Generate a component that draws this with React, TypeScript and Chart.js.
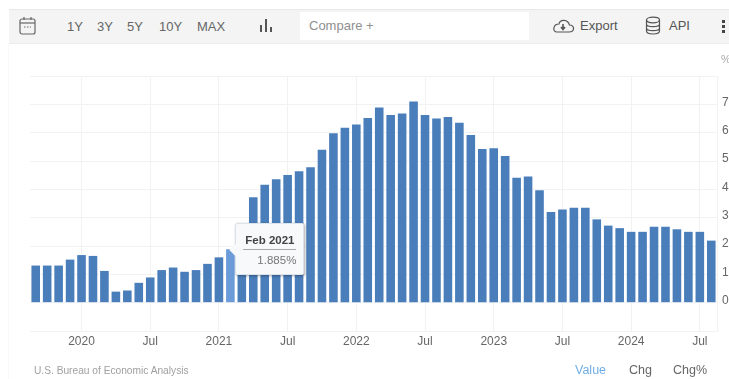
import React, { useEffect, useRef } from "react";
import { Chart, registerables } from "chart.js";

Chart.register(...registerables);

// Monthly rate, Sep 2019 through Aug 2024
const months = [
  "Sep 2019", "Oct 2019", "Nov 2019", "Dec 2019",
  "Jan 2020", "Feb 2020", "Mar 2020", "Apr 2020", "May 2020", "Jun 2020",
  "Jul 2020", "Aug 2020", "Sep 2020", "Oct 2020", "Nov 2020", "Dec 2020",
  "Jan 2021", "Feb 2021", "Mar 2021", "Apr 2021", "May 2021", "Jun 2021",
  "Jul 2021", "Aug 2021", "Sep 2021", "Oct 2021", "Nov 2021", "Dec 2021",
  "Jan 2022", "Feb 2022", "Mar 2022", "Apr 2022", "May 2022", "Jun 2022",
  "Jul 2022", "Aug 2022", "Sep 2022", "Oct 2022", "Nov 2022", "Dec 2022",
  "Jan 2023", "Feb 2023", "Mar 2023", "Apr 2023", "May 2023", "Jun 2023",
  "Jul 2023", "Aug 2023", "Sep 2023", "Oct 2023", "Nov 2023", "Dec 2023",
  "Jan 2024", "Feb 2024", "Mar 2024", "Apr 2024", "May 2024", "Jun 2024",
  "Jul 2024", "Aug 2024",
];

const values = [
  1.31, 1.31, 1.31, 1.52,
  1.68, 1.65, 1.12, 0.39, 0.43, 0.7,
  0.89, 1.15, 1.24, 1.09, 1.15, 1.37,
  1.6, 1.885, 2.3, 3.72, 4.16, 4.36,
  4.51, 4.64, 4.78, 5.4, 5.98, 6.17,
  6.29, 6.52, 6.89, 6.62, 6.68, 7.1,
  6.62, 6.5, 6.55, 6.35, 5.92, 5.42,
  5.45, 5.18, 4.41, 4.45, 3.97, 3.2,
  3.29, 3.35, 3.35, 2.94, 2.72, 2.63,
  2.5, 2.5, 2.68, 2.68, 2.59, 2.5,
  2.5, 2.19,
];

const rangeButtons = [
  { label: "1Y", x: 67 },
  { label: "3Y", x: 97 },
  { label: "5Y", x: 127 },
  { label: "10Y", x: 159 },
  { label: "MAX", x: 197 },
];
const viewButtons = [
  { label: "Value", x: 575, color: "#72aee6" },
  { label: "Chg", x: 629, color: "#666" },
  { label: "Chg%", x: 673, color: "#666" },
];

const highlightedIndex = months.indexOf("Feb 2021");
const FONT = "'Liberation Sans', Arial, sans-serif";
const GRID = "#f2f2f2";

const textAt = (x: number, y: number, color: string, size: number): React.CSSProperties => ({
  position: "absolute",
  left: x,
  top: y,
  color,
  fontSize: size,
  lineHeight: "16px",
  whiteSpace: "nowrap",
});

export default function App() {
  const canvasRef = useRef<HTMLCanvasElement>(null);
  const tipRef = useRef<HTMLDivElement>(null);

  useEffect(() => {
    const showTip = ({ chart, tooltip }: any) => {
      const tip = tipRef.current;
      if (!tip || !tooltip.dataPoints?.length) return;
      tip.style.left = `${chart.scales.x.getPixelForValue(highlightedIndex) + 5}px`;
      tip.style.top = `${chart.scales.y.getPixelForValue(values[highlightedIndex]) - 26}px`;
      tip.style.display = "block";
    };

    const chart = new Chart(canvasRef.current!, {
      type: "bar",
      data: {
        labels: months,
        datasets: [
          {
            data: values,
            backgroundColor: "#4a7ebb",
            hoverBackgroundColor: "#6b9bd8",
            barPercentage: 0.75,
            categoryPercentage: 1,
          },
        ],
      },
      options: {
        animation: false,
        responsive: false,
        events: [],
        layout: { padding: { left: 30, top: 76, right: 0, bottom: 0 } },
        plugins: {
          legend: { display: false },
          tooltip: { enabled: false, external: showTip },
        },
        scales: {
          x: {
            afterFit: (s: any) => {
              s.height = 48;
            },
            border: { color: GRID },
            grid: {
              offset: false,
              drawTicks: false,
              color: (ctx: any) => (ctx.tick && ctx.tick.label ? GRID : "transparent"),
            },
            ticks: {
              autoSkip: false,
              maxRotation: 0,
              padding: 3,
              color: "#666",
              font: { family: FONT, size: 12 },
              callback: (_v: any, i: number) => {
                const [month, year] = months[i].split(" ");
                if (month === "Jan") return year;
                return month === "Jul" ? "Jul" : "";
              },
            },
          },
          y: {
            position: "right",
            min: -1,
            max: 8,
            afterFit: (s: any) => {
              s.width = 12;
            },
            border: { color: GRID },
            grid: { color: GRID, drawTicks: false },
            ticks: {
              stepSize: 1,
              padding: 5,
              labelOffset: -2,
              color: "#666",
              font: { family: FONT, size: 12 },
              callback: (v: any) => (v >= 0 && v <= 7 ? String(v) : ""),
            },
          },
        },
      },
    });

    const active = [{ datasetIndex: 0, index: highlightedIndex }];
    chart.setActiveElements(active);
    chart.tooltip!.setActiveElements(active, { x: 0, y: 0 });
    chart.update();

    return () => chart.destroy();
  }, []);

  return (
    <div style={{ position: "fixed", left: 0, top: 0, width: 729, height: 379, overflow: "hidden", background: "#fff", fontFamily: FONT }}>
      <canvas ref={canvasRef} width={729} height={379} style={{ position: "absolute", left: 0, top: 0 }} />

      {/* toolbar */}
      <div style={{ position: "absolute", left: 9, top: 9, width: 720, height: 35, background: "#f4f4f4", borderTop: "1px solid #e8e8e8", borderBottom: "1px solid #ececec", boxSizing: "border-box" }} />
      <div style={{ position: "absolute", left: 8, top: 44, width: 1, height: 335, background: "#f8f8f8" }} />
      <svg width={18} height={20} style={{ position: "absolute", left: 19, top: 16 }} fill="none" stroke="#666" strokeWidth={1.2}>
        <rect x={1} y={3} width={15} height={15} rx={2} />
        <line x1={1} y1={7} x2={16} y2={7} />
        <line x1={5} y1={1} x2={5} y2={4} />
        <line x1={12} y1={1} x2={12} y2={4} />
        <line x1={5} y1={11} x2={12} y2={11} strokeDasharray="1.5 1.5" />
      </svg>
      {rangeButtons.map((b) => (
        <span key={b.label} style={textAt(b.x, 19, "#666", 13)}>{b.label}</span>
      ))}
      <svg width={14} height={16} style={{ position: "absolute", left: 260, top: 18 }} fill="#555">
        <rect x={0} y={7} width={2} height={7} />
        <rect x={5} y={1} width={2} height={13} />
        <rect x={10} y={9} width={2} height={5} />
      </svg>
      <div style={{ position: "absolute", left: 300, top: 12, width: 229, height: 28, background: "#fff" }} />
      <span style={textAt(309, 18, "#8f8f8f", 13)}>Compare +</span>
      <svg width={24} height={18} style={{ position: "absolute", left: 551, top: 17 }} fill="none" stroke="#555" strokeWidth={1.2}>
        <path d="M6 15 H18 C24 15 24 8 18.5 8 C17 2 9 2 8 7 C2 7 1 15 6 15 Z" />
        <path d="M12 7 V12 M10 10 L12 12.5 L14 10" strokeWidth={1.6} />
      </svg>
      <span style={textAt(580, 18, "#555", 13)}>Export</span>
      <svg width={16} height={20} style={{ position: "absolute", left: 645, top: 16 }} fill="none" stroke="#555" strokeWidth={1.2}>
        <ellipse cx={8} cy={4} rx={6.5} ry={2.8} />
        <path d="M1.5 4 V15 C1.5 19 14.5 19 14.5 15 V4 M1.5 8 C1.5 11.5 14.5 11.5 14.5 8 M1.5 12 C1.5 15.5 14.5 15.5 14.5 12" />
      </svg>
      <span style={textAt(669, 18, "#555", 13)}>API</span>
      <svg width={4} height={14} style={{ position: "absolute", left: 722, top: 20 }} fill="#444">
        <rect x={0} y={0} width={3} height={3} />
        <rect x={0} y={5} width={3} height={3} />
        <rect x={0} y={10} width={3} height={3} />
      </svg>

      {/* unit above the value axis */}
      <span style={textAt(721, 51, "#aaa", 11)}>%</span>

      {/* pinned tooltip */}
      <div ref={tipRef} style={{ display: "none", position: "absolute", width: 69, height: 52, boxSizing: "border-box", background: "#f7f9fb", border: "1px solid #dde3ea", borderRadius: 2, boxShadow: "1px 1px 3px rgba(0,0,0,0.35)", fontSize: 11.5 }}>
        <div style={{ position: "absolute", left: -5, top: 22, width: 8, height: 8, background: "#f7f9fb", transform: "rotate(45deg)" }} />
        <div style={{ position: "absolute", left: 7, right: 7, top: 10, paddingBottom: 2, borderBottom: "1px solid #aaa", fontWeight: 700, color: "#444", textAlign: "center", lineHeight: "13px", whiteSpace: "nowrap" }}>{months[highlightedIndex]}</div>
        <div style={{ position: "absolute", right: 7, top: 30, color: "#777", lineHeight: "13px" }}>{values[highlightedIndex].toFixed(3)}%</div>
      </div>

      {/* footer */}
      <span style={textAt(34, 363, "#a0a0a0", 10.2)}>U.S. Bureau of Economic Analysis</span>
      {viewButtons.map((b) => (
        <span key={b.label} style={textAt(b.x, 362, b.color, 12.5)}>{b.label}</span>
      ))}
    </div>
  );
}
